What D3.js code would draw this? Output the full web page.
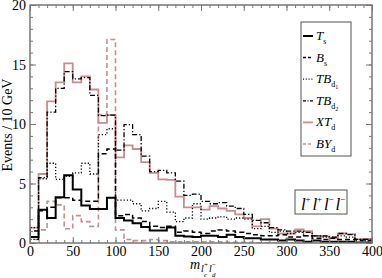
<!DOCTYPE html>
<html>
<head>
<meta charset="utf-8">
<script src="https://cdn.jsdelivr.net/npm/d3@7"></script>
<style>
  body { margin: 0; background: #fff; }
  svg { display: block; font-family: "Liberation Serif", "DejaVu Serif", serif; }
</style>
</head>
<body>
<svg id="chart" width="382" height="278"></svg>
<script>

// bins of 10 GeV from 0 to 400
let binEdges = d3.range(0, 400, 10);

let Ts   = [0.5, 2.8, 2.1, 3.85, 5.7, 4.5, 3.15, 2.85, 2.85, 3.8, 2.1, 1.9, 1.65, 1.35, 1.05, 1.05, 1.3, 0.6, 0.55, 0.5,
            0.6, 0.6, 0.5, 0.7, 0.5, 0.4, 0.4, 0.3, 0.3, 0.2, 0.3, 0.2, 0.1, 0.2, 0.1, 0.1, 0.1, 0.1, 0.05, 0.05];
let Bs   = [1.0, 2.7, 3.0, 3.8, 3.8, 3.6, 3.5, 3.5, 7.5, 7.9, 2.3, 2.4, 2.1, 1.8, 1.4, 1.3, 1.4, 0.9, 1.0, 0.9,
            0.8, 1.0, 1.1, 1.0, 0.9, 0.8, 0.7, 0.6, 0.6, 0.7, 0.5, 0.5, 0.6, 0.4, 0.3, 0.4, 0.3, 0.3, 0.2, 0.2];
let TBd1 = [1.3, 5.4, 6.7, 5.35, 5.6, 5.9, 6.7, 5.8, 9.1, 9.6, 3.6, 3.6, 3.3, 2.7, 2.9, 3.5, 2.6, 1.8, 2.1, 3.3,
            2.0, 2.1, 2.2, 2.0, 2.1, 2.0, 1.2, 1.4, 0.9, 1.0, 0.8, 0.9, 0.6, 0.6, 0.5, 0.5, 0.6, 0.5, 0.3, 0.2];
let TBd2 = [0.3, 5.5, 11.0, 13.0, 14.4, 13.8, 13.9, 12.4, 10.7, 10.75, 7.8, 9.95, 9.1, 7.3, 6.0, 6.1, 5.9, 5.2, 4.0, 4.1,
            3.5, 3.3, 3.4, 3.1, 2.9, 2.4, 1.9, 1.7, 1.3, 1.1, 1.0, 1.0, 0.9, 0.6, 0.6, 0.5, 0.8, 0.7, 0.3, 0.3];
let XTd  = [1.3, 5.8, 11.9, 13.5, 15.1, 13.5, 14.0, 12.9, 10.1, 10.75, 7.2, 8.2, 7.9, 6.8, 5.9, 5.35, 5.3, 3.9, 3.0, 3.0,
            2.8, 3.1, 2.9, 2.7, 2.4, 2.1, 1.4, 2.0, 1.2, 0.8, 0.8, 1.15, 1.0, 0.6, 0.55, 0.4, 0.8, 0.75, 0.3, 0.35];
let BYd  = [0.3, 1.1, 3.5, 3.2, 1.2, 2.3, 1.8, 1.4, 10.8, 17.1, 1.1, 0.3, 0.2, 0.2, 0.3, 0.2, 0.1, 0.1, 0.1, 0.1,
            0.1, 0.1, 0.1, 0.05, 0.05, 0.05, 0, 0, 0, 0, 0, 0, 0, 0, 0, 0, 0, 0, 0, 0];

let xTicks = [0, 50, 100, 150, 200, 250, 300, 350, 400];
let yTicks = [0, 5, 10, 15, 20];

let pink = "rgb(204,140,140)";

// drawing order: pink ones behind, black ones on top
let series = [
  { name: "XT", sub: "d", vals: XTd, color: pink, dash: null, legDash: null, w: 1.8 },
  { name: "BY", sub: "d", vals: BYd, color: pink, dash: "5,3", legDash: "3,2", w: 1.6 },
  { name: "TB", sub: "d", sub2: "1", vals: TBd1, color: "#000", dash: "1.2,2", legDash: "1,1.8", w: 1.3 },
  { name: "TB", sub: "d", sub2: "2", vals: TBd2, color: "#000", dash: "5,2,1.3,2", legDash: "3,1.5,1,1.5", w: 1.3 },
  { name: "B",  sub: "s", vals: Bs, color: "#000", dash: "5,3", legDash: "3,2", w: 1.5 },
  { name: "T",  sub: "s", vals: Ts, color: "#000", dash: null, legDash: null, w: 2 }
];
let legendOrder = [5, 4, 2, 3, 0, 1];

let svg = d3.select("#chart");
let x = d3.scaleLinear().domain([0, 400]).range([30, 372]);
let y = d3.scaleLinear().domain([0, 20]).range([243, 5]);

let plot = svg.append("g");
plot.append("clipPath").attr("id", "clip")
  .append("rect").attr("x", 30).attr("y", 5).attr("width", 342).attr("height", 238);

let line = d3.line()
  .x(function(d) { return x(d[0]); })
  .y(function(d) { return y(d[1]); })
  .curve(d3.curveStepAfter);

function histPoints(vals) {
  let pts = [[0, 0]];
  vals.forEach(function(v, i) { pts.push([binEdges[i], v]); });
  pts.push([400, vals[vals.length - 1]]);
  return pts;
}

series.forEach(function(s) {
  plot.append("path")
    .attr("clip-path", "url(#clip)")
    .attr("d", line(histPoints(s.vals)))
    .attr("fill", "none")
    .attr("stroke", s.color)
    .attr("stroke-width", s.w)
    .attr("stroke-dasharray", s.dash);
});

// axes with inward ticks on all four sides
let frameColor = "#777";
let xMinor = d3.range(0, 401, 10);
let yMinor = d3.range(0, 21, 1);

function styleAxis(g) {
  g.select(".domain").remove();
  g.selectAll(".tick line").attr("stroke", frameColor).attr("stroke-width", 1);
}
function styleLabels(g) {
  g.selectAll("text").attr("font-size", 14).attr("fill", "#000").attr("font-family", "Liberation Serif");
}

svg.append("g").attr("transform", "translate(0,243)")
  .call(d3.axisBottom(x).tickValues(xMinor).tickSize(-3).tickFormat(""))
  .call(styleAxis);
svg.append("g").attr("transform", "translate(0,243)")
  .call(d3.axisBottom(x).tickValues(xTicks).tickSize(-6).tickPadding(3).tickFormat(d3.format("d")))
  .call(styleAxis)
  .call(styleLabels);
svg.append("g").attr("transform", "translate(0,5)")
  .call(d3.axisTop(x).tickValues(xMinor).tickSize(-3).tickFormat(""))
  .call(styleAxis);
svg.append("g").attr("transform", "translate(0,5)")
  .call(d3.axisTop(x).tickValues(xTicks).tickSize(-6).tickFormat(""))
  .call(styleAxis);

svg.append("g").attr("transform", "translate(30,0)")
  .call(d3.axisLeft(y).tickValues(yMinor).tickSize(-3).tickFormat(""))
  .call(styleAxis);
svg.append("g").attr("transform", "translate(30,0)")
  .call(d3.axisLeft(y).tickValues(yTicks).tickSize(-6).tickPadding(4).tickFormat(d3.format("d")))
  .call(styleAxis)
  .call(styleLabels)
  .call(function(g) { g.selectAll("text").attr("dy", "0.34em"); });
svg.append("g").attr("transform", "translate(372,0)")
  .call(d3.axisRight(y).tickValues(yMinor).tickSize(-3).tickFormat(""))
  .call(styleAxis);
svg.append("g").attr("transform", "translate(372,0)")
  .call(d3.axisRight(y).tickValues(yTicks).tickSize(-6).tickFormat(""))
  .call(styleAxis);

svg.append("rect")
  .attr("x", 30).attr("y", 5).attr("width", 342).attr("height", 238)
  .attr("fill", "none").attr("stroke", frameColor).attr("stroke-width", 1.5);

// axis titles
svg.append("text")
  .attr("transform", "translate(12,125) rotate(-90)")
  .attr("text-anchor", "middle")
  .attr("font-size", 14)
  .text("Events / 10 GeV");

// m_{l_c^+ l_d^-}, one text element with placed pieces
let xl = svg.append("text").attr("font-style", "italic");
xl.append("tspan").attr("x", 190).attr("y", 269).attr("font-size", 14).text("m");
xl.append("tspan").attr("x", 201).attr("y", 272).attr("font-size", 10).text("l");
xl.append("tspan").attr("x", 204).attr("y", 277).attr("font-size", 7).text("c");
xl.append("tspan").attr("x", 204).attr("y", 267).attr("font-size", 7).attr("font-style", "normal").text("+");
xl.append("tspan").attr("x", 209).attr("y", 272).attr("font-size", 10).text("l");
xl.append("tspan").attr("x", 212).attr("y", 277).attr("font-size", 7).text("d");
xl.append("tspan").attr("x", 212).attr("y", 267).attr("font-size", 7).attr("font-style", "normal").text("\u2212");

// legend
let lg = svg.append("g");
lg.append("rect").attr("x", 301).attr("y", 22).attr("width", 50).attr("height", 134)
  .attr("fill", "#fff").attr("stroke", "#555").attr("stroke-width", 1);

legendOrder.forEach(function(si, k) {
  let s = series[si];
  let ly = 36 + k * 21.6;
  lg.append("line").attr("x1", 303).attr("x2", 313).attr("y1", ly).attr("y2", ly)
    .attr("stroke", s.color).attr("stroke-width", s.w).attr("stroke-dasharray", s.legDash);
  let t = lg.append("text").attr("x", 316).attr("y", ly + 4).attr("font-size", 13);
  t.append("tspan").attr("font-style", "italic").text(s.name);
  t.append("tspan").attr("font-size", 8).attr("dy", 4).text(s.sub);
  if (s.sub2) t.append("tspan").attr("font-size", 6).attr("dy", 2).text(s.sub2);
});

// channel label
svg.append("rect").attr("x", 295).attr("y", 190).attr("width", 52).attr("height", 24)
  .attr("fill", "#fff").attr("stroke", "#555").attr("stroke-width", 1);
let ch = svg.append("text").attr("font-style", "italic");
[["l", "+"], ["l", "+"], ["l", "\u2212"], ["l", "\u2212"]].forEach(function(p, i) {
  let cx = 301 + i * 11.5;
  ch.append("tspan").attr("x", cx).attr("y", 210).attr("font-size", 17).text(p[0]);
  ch.append("tspan").attr("x", cx + 4.5).attr("y", 202).attr("font-size", 9).attr("font-style", "normal").text(p[1]);
});

</script>
</body>
</html>
